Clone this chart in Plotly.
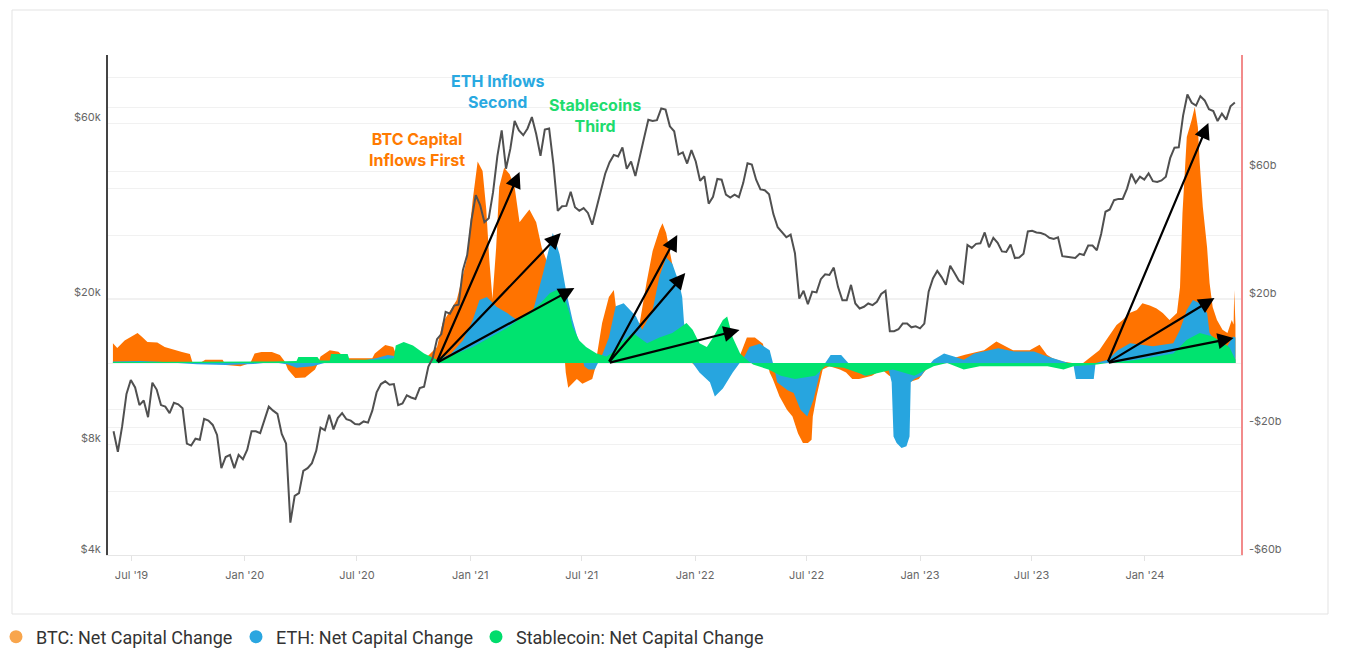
import math
import pandas as pd
import plotly.graph_objects as go

# ---------------------------------------------------------------- data
# BTC price, weekly samples starting 2019-06-02 (USD)
price_start = "2019-06-02"
btc_price = [
    # 2019
    8700, 7650, 8980, 11000, 12000, 11450, 10250, 10550, 9500, 11800, 11300, 10250, 10150,
    9750, 10400, 10300, 10050, 8050, 7950, 8300, 8250, 9400, 9300, 9050, 8500, 6900,
    7400, 7500, 6900, 7500, 7300,
    # 2020
    7750, 8700, 8700, 8600, 9350, 10150, 9900, 9700, 8550, 8050, 4900, 5800, 5900,
    6780, 6900, 7120, 7700, 8900, 8750, 9650, 8800, 9450, 9750, 9380, 9300, 9100,
    9080, 9250, 9180, 9900, 11100, 11700, 11900, 11650, 11700, 10250, 10350, 10900, 10750,
    10650, 11400, 11500, 13050, 13750, 15500, 16000, 18400, 18200, 19150, 19250, 23900, 26300,
    # 2021
    32800, 38300, 36000, 32300, 33100, 39000, 48900, 57500, 45200, 51200, 61000, 57500, 55800,
    58200, 62500, 56200, 49000, 57800, 58200, 46400, 34700, 35700, 35800, 39100, 35500, 34700,
    35300, 34250, 31800, 35400, 39900, 43800, 47000, 49300, 48800, 51700, 45200, 47300, 43200,
    48200, 54700, 61500, 61000, 61300, 66000, 65500, 59000, 57200, 49400, 50100, 46700, 50800,
    # 2022
    47300, 41900, 43100, 36300, 37900, 42400, 42200, 38400, 37700, 38400, 37800, 41300, 46800,
    46400, 42200, 39700, 39500, 38500, 34000, 31300, 30300, 29400, 29900, 26600, 20000, 21000,
    19300, 20900, 20800, 22600, 23300, 23200, 24300, 21500, 19800, 19800, 21800, 19400, 18800,
    19000, 19400, 19200, 19600, 20600, 21000, 16300, 16300, 16500, 17100, 17100, 16700, 16800,
    # 2023
    16600, 17100, 20900, 22700, 23800, 22900, 21800, 24600, 23500, 22400, 22000, 28000, 27500,
    28200, 28300, 30300, 27600, 29300, 28400, 26900, 26800, 28100, 25800, 25900, 26500, 30500,
    30600, 30300, 30200, 29900, 29300, 29100, 29400, 26100, 26000, 25900, 25800, 26500, 26300,
    27900, 27900, 27100, 30000, 34500, 35000, 37100, 37400, 37400, 39900, 43800, 41400, 43000, 42200,
    # 2024
    43900, 41800, 41600, 42000, 43000, 48300, 51600, 51700, 63100, 72000, 68400, 67200, 71300,
    69400, 65700, 64900, 61000, 63900, 61500, 66900, 68500,
]
price_dates = pd.date_range(price_start, periods=len(btc_price), freq="7D")

# Net capital change, USD billions
btc_flow_pts = [
    ("2019-06-01", 6.2), ("2019-06-08", 4.7), ("2019-06-20", 7.0), ("2019-07-11", 9.4),
    ("2019-07-18", 8.2), ("2019-07-27", 6.6), ("2019-08-12", 6.4), ("2019-08-24", 5.0),
    ("2019-09-21", 3.4), ("2019-10-04", 2.8), ("2019-10-08", 0.2), ("2019-10-20", 0.0),
    ("2019-10-29", 1.0), ("2019-11-26", 1.0), ("2019-12-01", -0.6), ("2019-12-25", -1.0),
    ("2020-01-10", 0.0), ("2020-01-17", 3.0), ("2020-01-28", 3.4), ("2020-02-14", 3.4),
    ("2020-02-27", 2.5), ("2020-03-06", 0.5), ("2020-03-11", -2.0), ("2020-03-23", -4.7),
    ("2020-04-08", -4.5), ("2020-04-24", -2.0), ("2020-04-29", 0.0), ("2020-05-03", 2.0),
    ("2020-05-18", 4.0), ("2020-06-01", 3.5), ("2020-06-12", 1.5), ("2020-07-26", 1.5),
    ("2020-07-30", 3.0), ("2020-08-16", 5.6), ("2020-08-29", 5.0), ("2020-09-02", 3.0),
    ("2020-10-04", 2.0), ("2020-10-18", 1.0), ("2020-11-08", 5.0), ("2020-11-17", 12.5),
    ("2020-12-10", 19.7), ("2020-12-26", 32.0), ("2021-01-05", 51.0), ("2021-01-13", 63.0),
    ("2021-01-21", 60.0), ("2021-01-27", 48.0), ("2021-02-01", 32.0), ("2021-02-06", 20.0),
    ("2021-02-12", 36.0), ("2021-02-17", 55.0), ("2021-02-25", 61.0), ("2021-03-06", 59.0),
    ("2021-03-14", 55.0), ("2021-03-22", 44.0), ("2021-03-30", 46.0), ("2021-04-07", 48.0),
    ("2021-04-18", 44.0), ("2021-04-27", 36.0), ("2021-05-05", 32.0), ("2021-05-17", 27.0),
    ("2021-05-28", 18.0), ("2021-06-03", 4.0), ("2021-06-05", -3.0), ("2021-06-09", -7.7),
    ("2021-06-23", -5.0), ("2021-07-02", -6.5), ("2021-07-18", -5.0), ("2021-07-25", 0.0),
    ("2021-07-26", 3.0), ("2021-08-03", 12.5), ("2021-08-14", 20.6), ("2021-08-22", 22.8),
    ("2021-08-27", 15.0), ("2021-09-15", 12.0), ("2021-10-03", 12.5), ("2021-10-14", 25.0),
    ("2021-10-24", 35.0), ("2021-11-04", 41.6), ("2021-11-09", 43.7), ("2021-11-15", 40.6),
    ("2021-11-23", 33.0), ("2021-12-06", 20.0), ("2021-12-17", 8.0), ("2021-12-27", 0.0),
    ("2022-01-05", -1.5), ("2022-02-15", -2.0), ("2022-03-10", 0.0), ("2022-03-26", 8.0),
    ("2022-04-08", 8.0), ("2022-04-21", 6.0), ("2022-05-02", -3.0), ("2022-05-07", -5.0),
    ("2022-05-18", -10.5), ("2022-05-30", -14.6), ("2022-06-08", -16.7), ("2022-06-17", -22.0),
    ("2022-06-25", -25.0), ("2022-07-03", -25.0), ("2022-07-09", -24.0), ("2022-07-11", -16.7),
    ("2022-07-17", -10.5), ("2022-07-27", -2.0), ("2022-08-07", -1.0), ("2022-08-24", -2.0),
    ("2022-09-03", -3.0), ("2022-09-13", -5.0), ("2022-09-24", -5.0), ("2022-10-15", -4.0),
    ("2022-10-31", -2.0), ("2022-11-12", -4.0), ("2022-11-28", -5.0), ("2022-12-14", -6.0),
    ("2022-12-30", -5.0), ("2023-01-11", -2.0), ("2023-01-21", 0.0), ("2023-02-15", 1.0),
    ("2023-03-15", 2.6), ("2023-04-15", 4.0), ("2023-05-05", 6.7), ("2023-05-21", 5.0),
    ("2023-06-01", 4.0), ("2023-06-28", 4.0), ("2023-07-09", 5.0), ("2023-07-14", 5.7),
    ("2023-07-26", 2.6), ("2023-08-04", 1.5), ("2023-08-20", 0.5), ("2023-09-05", 0.0),
    ("2023-09-16", -1.0), ("2023-10-03", 1.5), ("2023-10-19", 4.0), ("2023-11-04", 8.5),
    ("2023-11-16", 11.9), ("2023-11-26", 13.4), ("2023-12-07", 15.6), ("2023-12-19", 16.6),
    ("2023-12-28", 18.7), ("2024-01-09", 18.0), ("2024-01-20", 17.0), ("2024-01-30", 15.6),
    ("2024-02-10", 13.4), ("2024-02-22", 15.6), ("2024-02-27", 23.7), ("2024-03-02", 46.8),
    ("2024-03-09", 70.6), ("2024-03-17", 76.0), ("2024-03-22", 80.0), ("2024-03-27", 73.7),
    ("2024-03-30", 62.5), ("2024-04-04", 48.8), ("2024-04-11", 36.0), ("2024-04-15", 25.0),
    ("2024-04-20", 17.5), ("2024-04-27", 13.4), ("2024-05-06", 10.4), ("2024-05-14", 9.4),
    ("2024-05-21", 13.4), ("2024-05-24", 12.0), ("2024-05-25", 22.8), ("2024-05-27", 12.0),
]

eth_flow_pts = [
    ("2019-06-01", 0.5), ("2019-07-15", 0.6), ("2019-08-15", 0.4), ("2019-09-15", 0.0),
    ("2019-10-15", -0.4), ("2019-12-01", -0.6), ("2020-01-15", -0.3), ("2020-02-15", 0.3),
    ("2020-03-11", -0.5), ("2020-03-25", -1.5), ("2020-04-20", -1.0), ("2020-05-15", 0.3),
    ("2020-07-01", 0.5), ("2020-08-01", 1.5), ("2020-08-20", 2.5), ("2020-09-05", 2.0),
    ("2020-10-01", 1.0), ("2020-10-25", 0.5), ("2020-11-10", 1.0), ("2020-12-01", 3.0),
    ("2020-12-20", 7.0), ("2021-01-05", 13.4), ("2021-01-16", 19.7), ("2021-01-28", 20.6),
    ("2021-02-13", 17.5), ("2021-03-02", 15.6), ("2021-03-18", 13.4), ("2021-03-28", 11.3),
    ("2021-04-12", 15.6), ("2021-04-29", 28.0), ("2021-05-15", 40.6), ("2021-05-26", 34.0),
    ("2021-05-31", 28.0), ("2021-06-06", 22.0), ("2021-06-16", 13.4), ("2021-06-27", 6.0),
    ("2021-07-05", -1.0), ("2021-07-12", -2.0), ("2021-07-22", -2.0), ("2021-07-27", 0.0),
    ("2021-08-04", 3.0), ("2021-08-14", 8.0), ("2021-08-25", 17.7), ("2021-09-07", 18.7),
    ("2021-09-16", 17.0), ("2021-09-27", 14.6), ("2021-10-07", 10.4), ("2021-10-24", 16.6),
    ("2021-11-04", 27.0), ("2021-11-15", 33.0), ("2021-11-25", 31.0), ("2021-12-06", 25.0),
    ("2021-12-11", 20.6), ("2021-12-14", 12.5), ("2021-12-22", 4.0), ("2021-12-28", 0.0),
    ("2022-01-08", -3.0), ("2022-01-25", -6.0), ("2022-02-02", -10.5), ("2022-02-15", -8.0),
    ("2022-03-03", -3.0), ("2022-03-22", 2.0), ("2022-03-30", 5.0), ("2022-04-16", 6.0),
    ("2022-05-02", 4.0), ("2022-05-10", -2.0), ("2022-05-14", -6.0), ("2022-05-31", -8.5),
    ("2022-06-10", -9.4), ("2022-06-21", -14.6), ("2022-07-02", -16.7), ("2022-07-12", -11.5),
    ("2022-07-24", -2.0), ("2022-08-09", 2.5), ("2022-08-26", 2.5), ("2022-09-06", 0.0),
    ("2022-09-16", -2.0), ("2022-10-03", -4.0), ("2022-10-19", -3.0), ("2022-11-04", -1.0),
    ("2022-11-11", -2.0), ("2022-11-16", -6.0), ("2022-11-19", -23.0), ("2022-11-24", -25.0),
    ("2022-12-02", -26.6), ("2022-12-10", -26.0), ("2022-12-15", -23.0), ("2022-12-17", -6.0),
    ("2022-12-23", -5.0), ("2023-01-03", -4.0), ("2023-01-14", -1.0), ("2023-01-23", 1.0),
    ("2023-02-09", 3.0), ("2023-02-25", 2.0), ("2023-03-13", 1.0), ("2023-03-30", 3.0),
    ("2023-04-21", 4.0), ("2023-05-08", 4.6), ("2023-06-03", 3.6), ("2023-07-05", 3.6),
    ("2023-07-27", 2.0), ("2023-08-22", 0.5), ("2023-09-07", -0.5), ("2023-09-11", -5.0),
    ("2023-10-10", -5.0), ("2023-10-13", 0.0), ("2023-11-02", 1.0), ("2023-11-18", 4.0),
    ("2023-12-08", 6.2), ("2024-01-14", 5.2), ("2024-02-16", 6.2), ("2024-02-27", 10.4),
    ("2024-03-09", 16.6), ("2024-03-19", 19.7), ("2024-03-30", 18.7), ("2024-04-11", 15.6),
    ("2024-04-15", 9.4), ("2024-04-27", 6.2), ("2024-05-13", 5.0), ("2024-05-23", 8.3),
    ("2024-05-27", 8.0),
]

stable_flow_pts = [
    ("2019-06-01", 0.3), ("2019-10-01", 0.3), ("2020-01-01", 0.3), ("2020-02-15", 0.5),
    ("2020-03-25", 0.6), ("2020-03-28", 1.9), ("2020-04-28", 1.9), ("2020-05-02", 0.8),
    ("2020-05-18", 0.8), ("2020-05-20", 2.8), ("2020-06-16", 2.8), ("2020-06-19", 1.0),
    ("2020-07-28", 1.0), ("2020-08-30", 1.5), ("2020-09-02", 5.5), ("2020-09-15", 6.6),
    ("2020-09-30", 5.5), ("2020-10-18", 3.0), ("2020-11-08", 1.0), ("2020-12-10", 3.0),
    ("2021-01-05", 5.0), ("2021-02-01", 8.0), ("2021-03-02", 11.0), ("2021-03-28", 14.5),
    ("2021-04-25", 18.7), ("2021-05-10", 21.8), ("2021-05-21", 22.8), ("2021-06-01", 21.8),
    ("2021-06-11", 15.6), ("2021-06-16", 11.3), ("2021-06-27", 7.0), ("2021-07-08", 5.0),
    ("2021-07-25", 3.0), ("2021-08-10", 2.0), ("2021-08-25", 4.0), ("2021-09-01", 6.2),
    ("2021-09-22", 9.4), ("2021-10-15", 6.2), ("2021-11-04", 8.0), ("2021-11-25", 9.4),
    ("2021-12-18", 12.5), ("2021-12-28", 10.4), ("2022-01-08", 6.2), ("2022-01-20", 5.0),
    ("2022-01-30", 8.0), ("2022-02-15", 13.4), ("2022-02-22", 14.5), ("2022-03-03", 8.0),
    ("2022-03-15", 3.0), ("2022-03-26", 1.0), ("2022-04-05", -0.5), ("2022-04-30", -2.0),
    ("2022-05-20", -4.0), ("2022-06-12", -5.0), ("2022-07-15", -4.0), ("2022-07-31", -1.0),
    ("2022-08-30", -1.5), ("2022-10-06", -4.0), ("2022-10-27", -3.0), ("2022-11-18", -2.0),
    ("2022-12-23", -4.0), ("2023-01-14", -2.0), ("2023-01-23", -1.0), ("2023-02-14", 0.0),
    ("2023-03-13", -2.0), ("2023-04-08", -1.0), ("2023-06-01", -1.0), ("2023-07-27", -1.0),
    ("2023-08-22", -2.0), ("2023-09-07", -1.0), ("2023-10-15", -0.5), ("2023-11-01", 0.0),
    ("2023-12-20", 1.0), ("2024-01-15", 2.0), ("2024-02-16", 3.0), ("2024-03-09", 7.3),
    ("2024-03-30", 9.4), ("2024-04-20", 8.3), ("2024-05-06", 6.2), ("2024-05-17", 5.0),
    ("2024-05-27", 1.0),
]

btc_flow_dates, btc_flow = zip(*btc_flow_pts)
eth_flow_dates, eth_flow = zip(*eth_flow_pts)
stable_flow_dates, stable_flow = zip(*stable_flow_pts)

series_names = ["BTC: Net Capital Change", "ETH: Net Capital Change", "Stablecoin: Net Capital Change"]
area_colors = ["#FF7300", "#27A5DF", "#00E36F"]
legend_colors = ["#F8A54C", "#2AA6E0", "#00DC6C"]

# arrows: tail (date, $b) -> head (date, $b)
arrow_tail_dates = ["2020-11-07"] * 3 + ["2021-08-13"] * 3 + ["2023-11-01"] * 3
arrow_tail_vals = [0, 0, 0, 0, 0, 0, 0, 0, 0]
arrow_head_dates = ["2021-03-22", "2021-05-28", "2021-06-19",
                    "2021-12-03", "2021-12-16", "2022-03-14",
                    "2024-04-13", "2024-04-23", "2024-05-24"]
arrow_head_vals = [59.7, 40.6, 23.4, 40.0, 28.1, 10.3, 75.0, 20.3, 7.8]

# text callouts
label_texts = ["BTC Capital<br>Inflows First", "ETH Inflows<br>Second", "Stablecoins<br>Third"]
label_dates = ["2020-10-06", "2021-02-14", "2021-07-22"]
label_vals = [66.6, 84.7, 77.2]
label_colors = ["#FF7A00", "#29A9E1", "#1EDC6E"]

# axis ticks
flow_tick_vals = [-60, -40, -20, 0, 20, 40, 60, 80]
flow_tick_text = ["-$60b", "", "-$20b", "", "$20b", "", "$60b", ""]
price_tick_vals = [4000, 8000, 10000, 20000, 40000, 60000, 80000]
price_tick_text = ["$4k", "$8k", "", "$20k", "", "$60k", ""]

# ---------------------------------------------------------------- figure
W, H = 1346, 662
L, R, T, B = 108, 105, 55, 107
PW, PH = W - L - R, H - T - B

fig = go.Figure()

for name, xs, ys, col in zip(series_names,
                             [btc_flow_dates, eth_flow_dates, stable_flow_dates],
                             [btc_flow, eth_flow, stable_flow],
                             area_colors):
    fig.add_trace(go.Scatter(
        x=list(xs), y=list(ys), mode="lines", fill="tozeroy",
        fillcolor=col, line=dict(width=0, color=col),
        yaxis="y", name=name, showlegend=False, legendgroup=name,
        hoverinfo="skip",
    ))

fig.add_trace(go.Scatter(
    x=price_dates, y=btc_price, mode="lines", name="BTC Price",
    line=dict(color="#505050", width=2), yaxis="y2", showlegend=False,
))

legend_widths = [195, 195, 280]
for name, col, lw in zip(series_names, legend_colors, legend_widths):
    fig.add_trace(go.Scatter(
        x=[None], y=[None], mode="markers", name=name, legendgroup=name,
        marker=dict(symbol="circle", size=13, color=col), yaxis="y",
        legendwidth=lw,
    ))

annotations = []
for td, tv, hd, hv in zip(arrow_tail_dates, arrow_tail_vals, arrow_head_dates, arrow_head_vals):
    annotations.append(dict(
        x=hd, y=hv, xref="x", yref="y", ax=td, ay=tv, axref="x", ayref="y",
        text="", showarrow=True, arrowhead=2, arrowsize=1.45, arrowwidth=2.2,
        arrowcolor="#000000", standoff=0,
    ))
for txt, d, v, col in zip(label_texts, label_dates, label_vals, label_colors):
    annotations.append(dict(
        x=d, y=v, xref="x", yref="y", text="<b>" + txt + "</b>", showarrow=False,
        align="center", font=dict(family="Inter, Roboto, sans-serif", size=16, color=col),
    ))

frame = dict(
    type="rect", xref="paper", yref="paper", layer="below",
    x0=(12 - L) / PW, x1=(1328 - L) / PW, y0=(H - B - 614) / PH, y1=(H - B - 10) / PH,
    line=dict(color="#e3e3e3", width=1), fillcolor="rgba(0,0,0,0)",
)

log_lo = math.log10(4000)
fig.update_layout(
    width=W, height=H, margin=dict(l=L, r=R, t=T, b=B, pad=0, autoexpand=False),
    paper_bgcolor="white", plot_bgcolor="white",
    font=dict(family="Inter, Roboto, sans-serif", size=11, color="#666666"),
    xaxis=dict(
        type="date", range=["2019-05-24", "2024-06-05"], tickformat="%b '%y",
        dtick="M6", tick0="2019-07-01", showgrid=False, zeroline=False,
        showline=True, linecolor="#e6e6e6", linewidth=1,
        ticks="outside", ticklen=5, tickcolor="#e3e3e3",
        tickfont=dict(size=11, color="#666666"), ticklabelstandoff=5,
    ),
    yaxis=dict(
        side="right", range=[-60, -60 + PH / 3.2], tickmode="array",
        tickvals=flow_tick_vals, ticktext=flow_tick_text,
        showgrid=True, gridcolor="#f1f1f1", gridwidth=1, zeroline=False,
        showline=True, linecolor="#f28b8b", linewidth=1.5, ticks="",
        tickfont=dict(size=11, color="#666666"), ticklabelshift=-6, ticklabelstandoff=4,
    ),
    yaxis2=dict(
        overlaying="y", side="left", type="log",
        range=[log_lo, log_lo + PH / 366.8], tickmode="array",
        tickvals=price_tick_vals, ticktext=price_tick_text,
        showgrid=True, gridcolor="#f1f1f1", gridwidth=1, zeroline=False,
        showline=True, linecolor="#444444", linewidth=2, ticks="",
        tickfont=dict(size=11, color="#666666"), ticklabelshift=-6, ticklabelstandoff=3,
    ),
    legend=dict(
        orientation="h", x=(-4 - L) / PW, xanchor="left", y=(H - B - 637) / PH, yanchor="middle",
        font=dict(family="Roboto, sans-serif", size=18, color="#333333"),
        entrywidth=195, entrywidthmode="pixels", bgcolor="rgba(0,0,0,0)",
        itemclick=False, itemdoubleclick=False,
    ),
    shapes=[frame],
    annotations=annotations,
    hovermode=False,
)

fig.write_html("out.html", config={"displayModeBar": False},
               post_script="document.body.style.margin='0';")
